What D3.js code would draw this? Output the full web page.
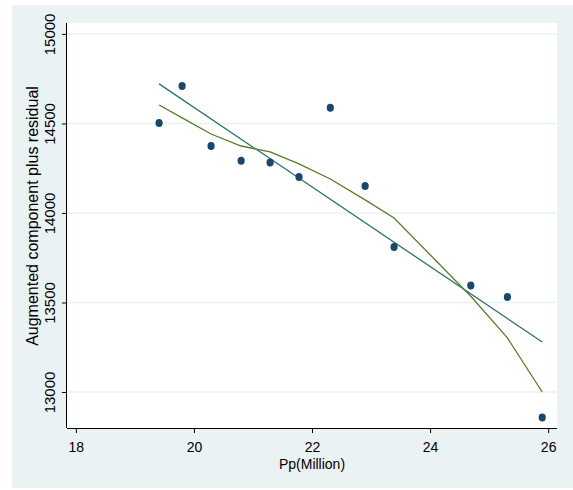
<!DOCTYPE html>
<html>
<head>
<meta charset="utf-8">
<script src="https://cdn.jsdelivr.net/npm/d3@7"></script>
<style>
  body { margin: 0; background: #fff; }
  svg text { font-family: "Liberation Sans", Arial, sans-serif; fill: #000; }
</style>
</head>
<body>
<svg id="chart" width="573" height="490"></svg>
<script>
// population (million) and augmented component plus residual
const ppX = [19.41, 19.80, 20.29, 20.80, 21.29, 21.78, 22.31, 22.90, 23.39, 24.69, 25.31, 25.90];
const residual = [14503, 14709, 14374, 14291, 14282, 14201, 14587, 14151, 13810, 13595, 13531, 12857];
// lowess smooth at each x
const lowessY = [14603, 14531, 14441, 14374, 14341, 14274, 14190, 14073, 13972, 13535, 13302, 13000];
// linear fit, evaluated at the ends
const fitX = [19.41, 25.90];
const fitY = [14721, 13279];
const xTicks = [18, 20, 22, 24, 26];
const yTicks = [13000, 13500, 14000, 14500, 15000];

const svg = d3.select("#chart");
const bg = "#eaf2f3";

svg.append("rect")
  .attr("x", 12).attr("y", 5)
  .attr("width", 561).attr("height", 483)
  .attr("fill", bg);

const plot = { left: 67, right: 557, top: 23, bottom: 428 };

svg.append("rect")
  .attr("x", plot.left).attr("y", plot.top)
  .attr("width", plot.right - plot.left)
  .attr("height", plot.bottom - plot.top)
  .attr("fill", "#fff");

const x = d3.scaleLinear().domain([17.85, 26.15]).range([plot.left, plot.right]);
const y = d3.scaleLinear().domain([12799, 15061]).range([plot.bottom, plot.top]);

// gridlines
svg.append("g")
  .selectAll("line")
  .data(yTicks)
  .join("line")
  .attr("x1", plot.left).attr("x2", plot.right)
  .attr("y1", d => y(d)).attr("y2", d => y(d))
  .attr("stroke", bg)
  .attr("stroke-width", 1.5);

// axes
const xAxis = svg.append("g")
  .attr("transform", `translate(0,${plot.bottom})`)
  .call(d3.axisBottom(x).tickValues(xTicks).tickFormat(d3.format("d")).tickSize(5).tickPadding(9).tickSizeOuter(0));
xAxis.select(".domain").attr("d", `M${plot.left},0.5H${plot.right}`).attr("stroke", "#000");
xAxis.selectAll("text").attr("font-size", 14).style("font-family", "'Liberation Sans', Arial, sans-serif");

const yAxis = svg.append("g")
  .attr("transform", `translate(${plot.left},0)`)
  .call(d3.axisLeft(y).tickValues(yTicks).tickFormat(d3.format("d")).tickSize(5).tickSizeOuter(0));
yAxis.select(".domain").attr("d", `M-0.5,${plot.top}V${plot.bottom}`).attr("stroke", "#000");
yAxis.selectAll("text")
  .attr("font-size", 15)
  .style("font-family", "'Liberation Sans', Arial, sans-serif")
  .attr("x", null).attr("dy", null)
  .attr("text-anchor", "middle")
  .attr("transform", "translate(-12,0) rotate(-90)");

// axis titles
svg.append("text")
  .attr("x", (plot.left + plot.right) / 2)
  .attr("y", 469)
  .attr("text-anchor", "middle")
  .attr("font-size", 14)
  .text("Pp(Million)");

svg.append("text")
  .attr("transform", "translate(38,216) rotate(-90)")
  .attr("text-anchor", "middle")
  .attr("font-size", 16)
  .text("Augmented component plus residual");

// linear fit
const line = d3.line().x(d => x(d[0])).y(d => y(d[1]));
svg.append("path")
  .datum(d3.zip(fitX, fitY))
  .attr("d", line)
  .attr("fill", "none")
  .attr("stroke", "#2e706b")
  .attr("stroke-width", 1.3);

// lowess
svg.append("path")
  .datum(d3.zip(ppX, lowessY))
  .attr("d", line)
  .attr("fill", "none")
  .attr("stroke", "#5a7a2b")
  .attr("stroke-width", 1.3);

// points
svg.append("g")
  .selectAll("ellipse")
  .data(d3.zip(ppX, residual))
  .join("ellipse")
  .attr("cx", d => x(d[0]))
  .attr("cy", d => y(d[1]))
  .attr("rx", 3.6)
  .attr("ry", 4)
  .attr("fill", "#1a476f");
</script>
</body>
</html>
